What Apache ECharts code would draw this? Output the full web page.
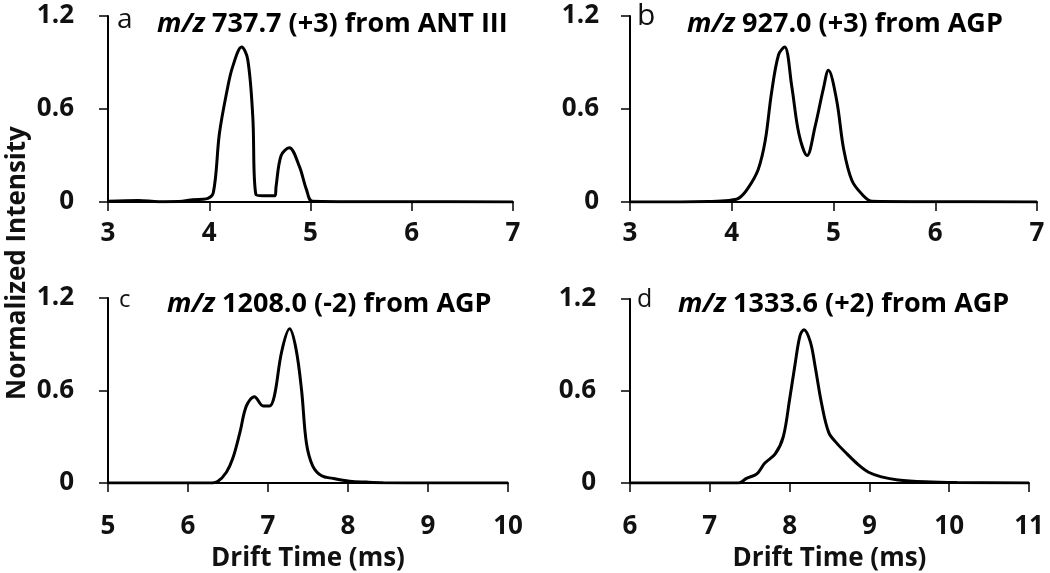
<!DOCTYPE html>
<html><head><meta charset="utf-8">
<script src="https://cdn.jsdelivr.net/npm/echarts@6/dist/echarts.min.js"></script>
<style>html,body{margin:0;padding:0;background:#fff}#c{width:1050px;height:573px}</style>
</head><body><div id="c"></div>
<script>
// Panel a: m/z 737.7 (+3) from ANT III
const aX = [3.0,3.3,3.5,3.7,3.84,3.97,4.04,4.1,4.17,4.23,4.32,4.38,4.43,4.46,4.53,4.65,4.66,4.71,4.79,4.89,4.96,5.02,5.5,6.0,7.0];
const aY = [0.005,0.01,0.002,0.003,0.015,0.02,0.06,0.44,0.70,0.87,1.0,0.92,0.55,0.05,0.04,0.04,0.1,0.3,0.35,0.23,0.08,0.005,0.002,0.002,0.0];
// Panel b: m/z 927.0 (+3) from AGP
const bX = [3.0,3.5,3.77,3.97,4.07,4.16,4.26,4.33,4.39,4.46,4.52,4.59,4.66,4.74,4.82,4.9,4.95,5.03,5.1,5.18,5.28,5.38,5.9,7.0];
const bY = [0.0,0.0,0.003,0.01,0.025,0.09,0.21,0.40,0.70,0.95,1.0,0.745,0.44,0.30,0.49,0.73,0.85,0.66,0.34,0.14,0.05,0.005,0.002,0.0];
// Panel c: m/z 1208.0 (-2) from AGP
const cX = [5.0,6.0,6.27,6.37,6.48,6.56,6.65,6.73,6.83,6.94,7.02,7.08,7.17,7.27,7.35,7.42,7.48,7.56,7.67,7.81,8.02,8.23,8.44,9.0,10.0];
const cY = [0.0,0.0,0.0,0.01,0.07,0.16,0.33,0.50,0.56,0.50,0.50,0.565,0.85,1.0,0.87,0.60,0.26,0.11,0.047,0.03,0.012,0.006,0.002,0.0,0.0];
// Panel d: m/z 1333.6 (+2) from AGP
const dX = [6.0,7.0,7.36,7.46,7.59,7.69,7.82,7.92,8.0,8.07,8.13,8.18,8.26,8.32,8.4,8.49,8.59,8.72,8.86,8.99,9.15,9.36,9.7,10.1,11.0];
const dY = [0.0,0.0,0.0,0.03,0.06,0.13,0.19,0.30,0.545,0.78,0.96,1.0,0.92,0.76,0.52,0.33,0.26,0.19,0.12,0.07,0.04,0.02,0.008,0.003,0.0];
const yTicks = [0, 0.6, 1.2];
const letters = ['a','b','c','d'];
const titles = [['m/z',' 737.7 (+3) from ANT III'],['m/z',' 927.0 (+3) from AGP'],['m/z',' 1208.0 (-2) from AGP'],['m/z',' 1333.6 (+2) from AGP']];
const xRanges = [[3,7],[3,7],[5,10],[6,11]];
const xLabelName = 'Drift Time (ms)';
const yLabelName = 'Normalized Intensity';

const grids = [
  {left:108, width:405, top:16, height:186},
  {left:630, width:407, top:16, height:186},
  {left:108, width:400, top:298, height:186},
  {left:630, width:399, top:299, height:185}
];
const xMargins = [19,19,31,31];
const series = [[aX,aY],[bX,bY],[cX,cY],[dX,dY]];
const chart = echarts.init(document.getElementById('c'));
const axisStyle = {lineStyle:{color:'#000',width:2}};
const titleRich = {i:{fontFamily:'Open Sans', fontStyle:'italic', fontWeight:'bold', fontSize:27, color:'#111'},
                   n:{fontFamily:'Open Sans', fontWeight:'bold', fontSize:27, color:'#111'}};
function titleText(t, x, y){
  return {type:'text', x:x, y:y, style:{rich:titleRich, text:'{i|'+t[0]+'}{n|'+t[1]+'}', verticalAlign:'middle'}};
}
function letterText(t, x, y, size){
  return {type:'text', x:x, y:y, style:{text:t, fontFamily:'Open Sans', fontSize:size, fill:'#111', verticalAlign:'middle'}};
}
const opt = {
  backgroundColor:'#fff',
  animation:false,
  grid: grids,
  xAxis: grids.map((g,i)=>({
    type:'value', gridIndex:i, min:xRanges[i][0], max:xRanges[i][1], interval:1,
    axisLine:{show:true, onZero:false, ...axisStyle},
    axisTick:{show:true, length:9, lineStyle:{color:'#000',width:1.5}},
    splitLine:{show:false},
    axisLabel:{color:'#111', fontFamily:'Open Sans', fontWeight:'bold', fontSize:26, margin:xMargins[i]},
    name: i>=2 ? xLabelName : '', nameLocation:'middle', nameGap:63,
    nameTextStyle:{color:'#111', fontFamily:'Open Sans', fontWeight:'bold', fontSize:26}
  })),
  yAxis: grids.map((g,i)=>({
    type:'value', gridIndex:i, min:0, max:1.2, interval:0.6,
    axisLine:{show:true, ...axisStyle},
    axisTick:{show:true, length:9, lineStyle:{color:'#000',width:1.5}},
    splitLine:{show:false},
    axisLabel:{color:'#111', fontFamily:'Open Sans', fontWeight:'bold', fontSize:26, margin:i===1?31:34,
      formatter:v=> (yTicks.indexOf(Math.round(v*10)/10)>=0 ? String(Math.round(v*10)/10) : '')}
  })),
  series: series.map((s,i)=>({
    type:'line', xAxisIndex:i, yAxisIndex:i, smooth:0.35, symbol:'none',
    lineStyle:{color:'#000', width:3},
    data: s[0].map((x,k)=>[x, s[1][k]])
  })),
  graphic: [
    letterText(letters[0], 117, 20, 28),
    letterText(letters[1], 637, 16, 30),
    letterText(letters[2], 119, 300, 24),
    letterText(letters[3], 637, 300, 25),
    titleText(titles[0], 157, 24),
    titleText(titles[1], 687, 24),
    titleText(titles[2], 167, 304),
    titleText(titles[3], 678, 304),
    {type:'text', x:18, y:263, rotation:Math.PI/2, style:{text:yLabelName, fontFamily:'Open Sans', fontWeight:'bold', fontSize:26, fill:'#111', align:'center', verticalAlign:'middle'}}
  ]
};
chart.setOption(opt);
</script></body></html>
